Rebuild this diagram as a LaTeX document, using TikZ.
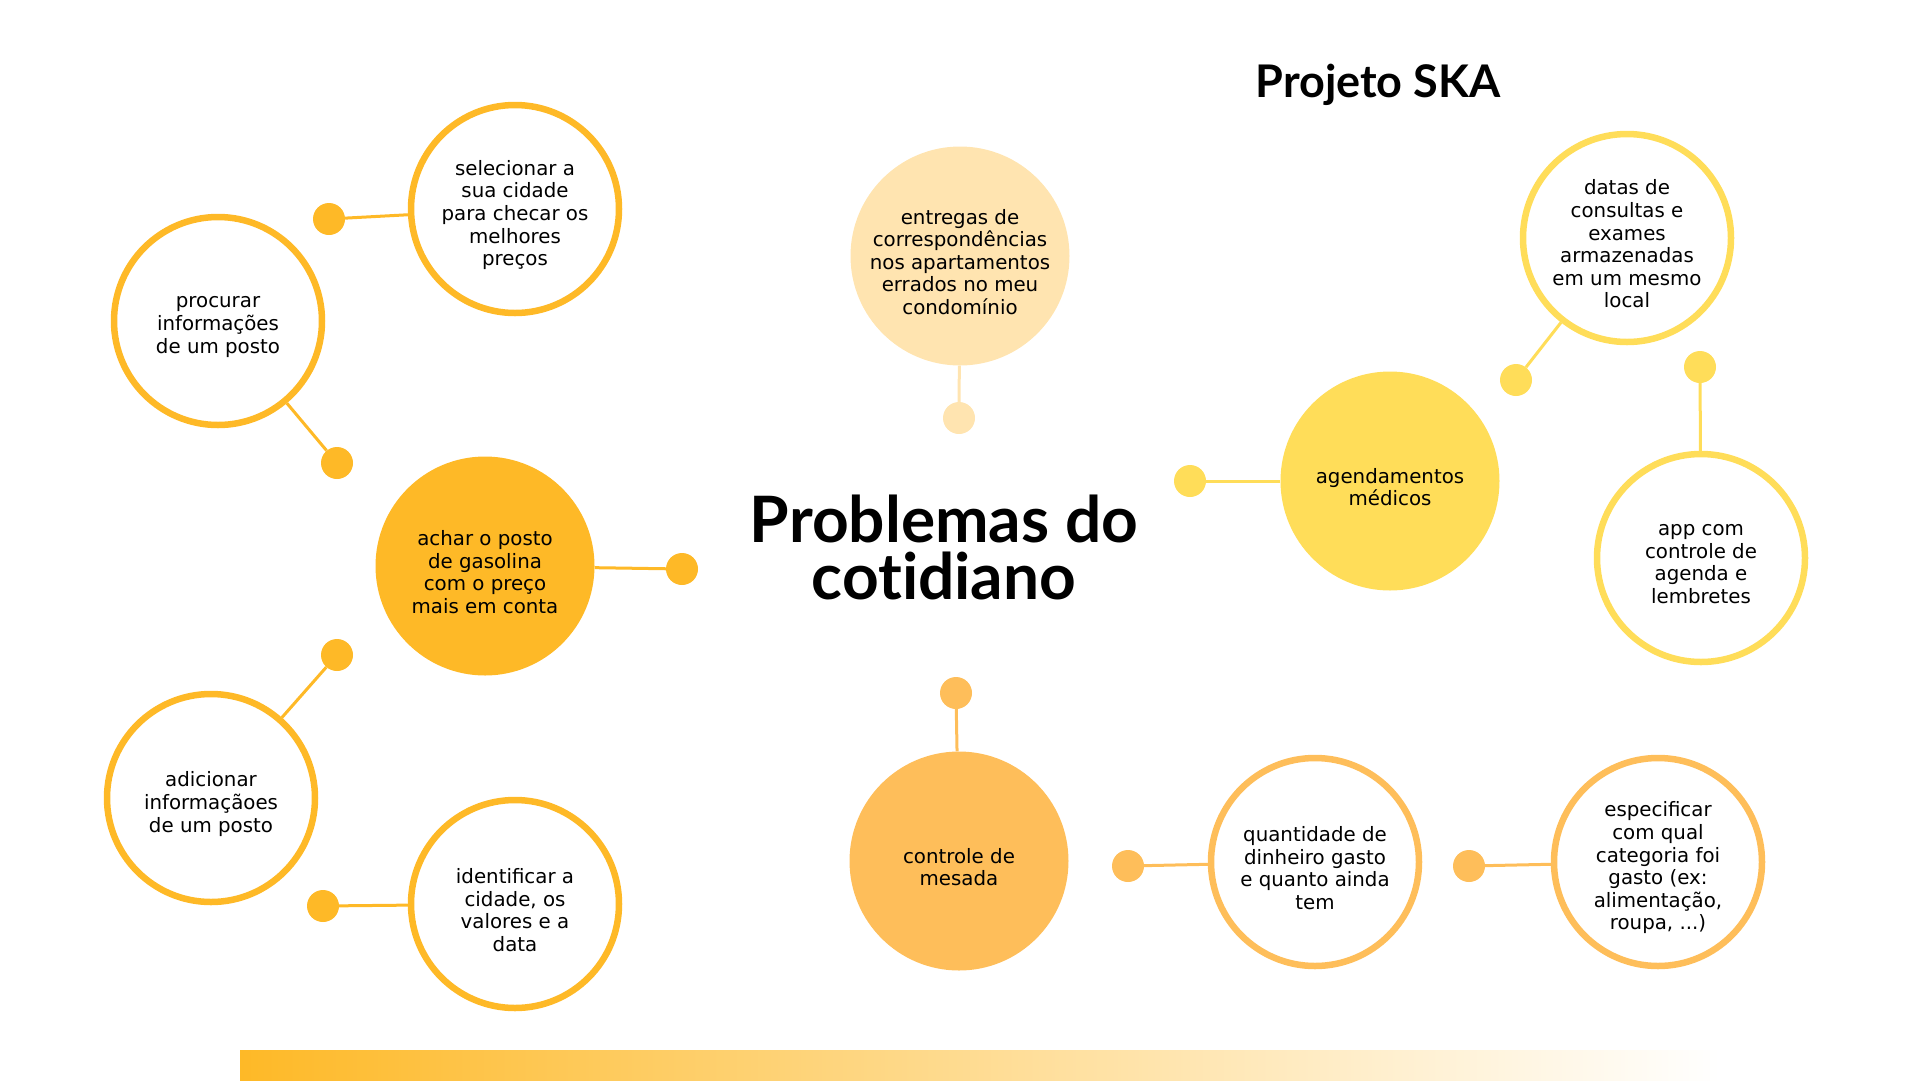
\documentclass[tikz,border=0pt]{standalone}
\usepackage{fontspec}
\usepackage{xcolor}
\usepackage{tikz}
\usetikzlibrary{positioning,calc}
\newfontfamily\corpofont{DejaVu Sans}
\newfontfamily\titulofont{Lato}[Ligatures=NoCommon]
\definecolor{laranja}  {RGB}{254, 185,  39}
\definecolor{pessego}  {RGB}{255, 228, 176}
\definecolor{amarelo}  {RGB}{255, 221,  89}
\definecolor{mostarda} {RGB}{254, 190,  90}

\begin{document}
\begin{tikzpicture}[x=1pt,y=-1pt,
        txt/.style={align=center,inner sep=0pt,
                    font=\corpofont\fontsize{19.8}{22.6}\selectfont},
        rotulo/.style={label={[txt,yshift=-6pt]center:{#1}}},
        aberto/.style={circle,draw=#1,fill=white,
                       minimum size=208pt,line width=6.5pt},
        cheio/.style={circle,fill=#1,minimum size=219pt},
        ponto/.style={circle,fill=#1,inner sep=0pt,minimum size=32pt},
        liga/.style={draw=#1,line width=3pt}]

        \useasboundingbox (0,0) rectangle (1920,1080);

        % gasolina
        \node[cheio=laranja,rotulo={achar o posto\\de gasolina\\com o preço\\mais em conta}] (achar) at (485,566) {};
        \node[aberto=laranja,rotulo={selecionar a\\sua cidade\\para checar os\\melhores\\preços}] (sel) at (515,209) {};
        \node[aberto=laranja,rotulo={procurar\\informações\\de um posto}] (proc) at (218,321) {};
        \node[aberto=laranja,rotulo={adicionar\\informaçãoes\\de um posto}] (adic) at (211,798) {};
        \node[aberto=laranja,rotulo={identificar a\\cidade, os\\valores e a\\data}] (ident) at (515,904) {};
        \node[ponto=laranja] (pSel)   at (329,219) {};
        \node[ponto=laranja] (pProc)  at (337,463) {};
        \node[ponto=laranja] (pAchar) at (682,569) {};
        \node[ponto=laranja] (pAdic)  at (337,655) {};
        \node[ponto=laranja] (pIdent) at (323,906) {};

        % condominio
        \node[cheio=pessego,rotulo={entregas de\\correspondências\\nos apartamentos\\errados no meu\\condomínio}] (entr) at (960,256) {};
        \node[ponto=pessego] (pEntr) at (959,418) {};

        % medicos
        \node[cheio=amarelo,rotulo={agendamentos\\médicos}] (agend) at (1390,481) {};
        \node[aberto=amarelo,rotulo={datas de\\consultas e\\exames\\armazenadas\\em um mesmo\\local}] (datas) at (1627,238) {};
        \node[aberto=amarelo,rotulo={app com\\controle de\\agenda e\\lembretes}] (app) at (1701,558) {};
        \node[ponto=amarelo] (pAgend) at (1190,481) {};
        \node[ponto=amarelo] (pDatas) at (1516,380) {};
        \node[ponto=amarelo] (pApp)   at (1700,367) {};

        % mesada
        \node[cheio=mostarda,rotulo={controle de\\mesada}] (mesada) at (959,861) {};
        \node[aberto=mostarda,rotulo={quantidade de\\dinheiro gasto\\e quanto ainda\\tem}] (quant) at (1315,862) {};
        \node[aberto=mostarda,rotulo={especificar\\com qual\\categoria foi\\gasto (ex:\\alimentação,\\roupa, ...)}] (espec) at (1658,862) {};
        \node[ponto=mostarda] (pMesada) at (956,693) {};
        \node[ponto=mostarda] (pQuant)  at (1128,866) {};
        \node[ponto=mostarda] (pEspec)  at (1469,866) {};

        \foreach \a/\b/\c in {sel/pSel/laranja,proc/pProc/laranja,achar/pAchar/laranja,
                              adic/pAdic/laranja,ident/pIdent/laranja,entr/pEntr/pessego,
                              agend/pAgend/amarelo,datas/pDatas/amarelo,app/pApp/amarelo,
                              mesada/pMesada/mostarda,quant/pQuant/mostarda,espec/pEspec/mostarda}{
          \draw[liga=\c] (\a)--(\b);
        }

        % titulos
        \node[align=center,inner sep=0pt,
              font=\titulofont\bfseries\fontsize{64}{57}\selectfont] (tit) at (944,547) {Problemas do\\cotidiano};
        \node[anchor=base,inner sep=0pt,
              font=\titulofont\bfseries\fontsize{45}{50}\selectfont] (proj) at (1378,97) {Projeto SKA};

        \shade[left color=laranja,right color=white] (240,1050) rectangle (1720,1080);
      \end{tikzpicture}
\end{document}
